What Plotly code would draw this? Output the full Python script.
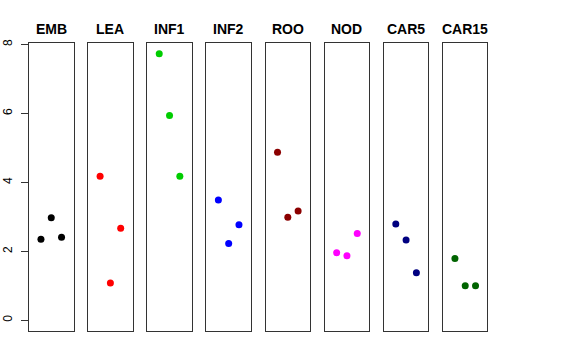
import plotly.graph_objects as go

panels = ["EMB", "LEA", "INF1", "INF2", "ROO", "NOD", "CAR5", "CAR15"]
colors = ["#000000", "#FF0000", "#00CD00", "#0000FF", "#8B0000", "#FF00FF", "#000080", "#006400"]
x_pos = [1, 2, 3]
values = {
    "EMB": [2.35, 2.97, 2.41],
    "LEA": [4.18, 1.08, 2.67],
    "INF1": [7.73, 5.94, 4.18],
    "INF2": [3.49, 2.23, 2.77],
    "ROO": [4.87, 2.99, 3.17],
    "NOD": [1.96, 1.87, 2.52],
    "CAR5": [2.79, 2.33, 1.38],
    "CAR15": [1.79, 1.00, 1.00],
}
y_ticks = [0, 2, 4, 6, 8]

W, H = 576, 360
fig = go.Figure()
layout = dict(
    width=W, height=H, margin=dict(l=0, r=0, t=0, b=0, autoexpand=False),
    paper_bgcolor="white", plot_bgcolor="white", showlegend=False,
    font=dict(family="Liberation Sans, Arial, sans-serif", color="black"),
)
annotations = []
ydom = [1 - 331 / H, 1 - 43 / H]
for i, (p, c) in enumerate(zip(panels, colors)):
    left = 29 + i * 59.14
    right = left + 44.5
    xa = "xaxis" if i == 0 else f"xaxis{i+1}"
    ya = "yaxis" if i == 0 else f"yaxis{i+1}"
    xr = "x" if i == 0 else f"x{i+1}"
    yr = "y" if i == 0 else f"y{i+1}"
    fig.add_trace(go.Scatter(x=x_pos, y=values[p], mode="markers", xaxis=xr, yaxis=yr,
                             marker=dict(color=c, size=7, line=dict(width=0))))
    layout[xa] = dict(domain=[left / W, right / W], range=[-0.16, 4.16], showgrid=False,
                      zeroline=False, showticklabels=False, ticks="", showline=True,
                      mirror=True, linecolor="#333333", linewidth=1, anchor=yr,
                      automargin=False, fixedrange=True)
    ydict = dict(domain=ydom, range=[-0.31, 8.04], showgrid=False, zeroline=False,
                 showline=True, mirror=True, linecolor="#333333", linewidth=1, anchor=xr,
                 automargin=False, fixedrange=True)
    if i == 0:
        ydict.update(tickvals=y_ticks, ticks="outside", ticklen=7, tickcolor="#333333",
                     tickangle=-90, tickfont=dict(size=12, color="black"), ticklabelstandoff=4)
    else:
        ydict.update(showticklabels=False, ticks="")
    layout[ya] = ydict
    annotations.append(dict(text=f"<b>{p}</b>", x=(left + right) / 2 / W, y=1 - 29 / H,
                            xref="paper", yref="paper", showarrow=False,
                            font=dict(size=14, color="black"), xanchor="center", yanchor="middle"))
layout["annotations"] = annotations
fig.update_layout(**layout)
fig.write_html("out.html", config={"displayModeBar": False},
               post_script="document.body.style.margin='0';")
